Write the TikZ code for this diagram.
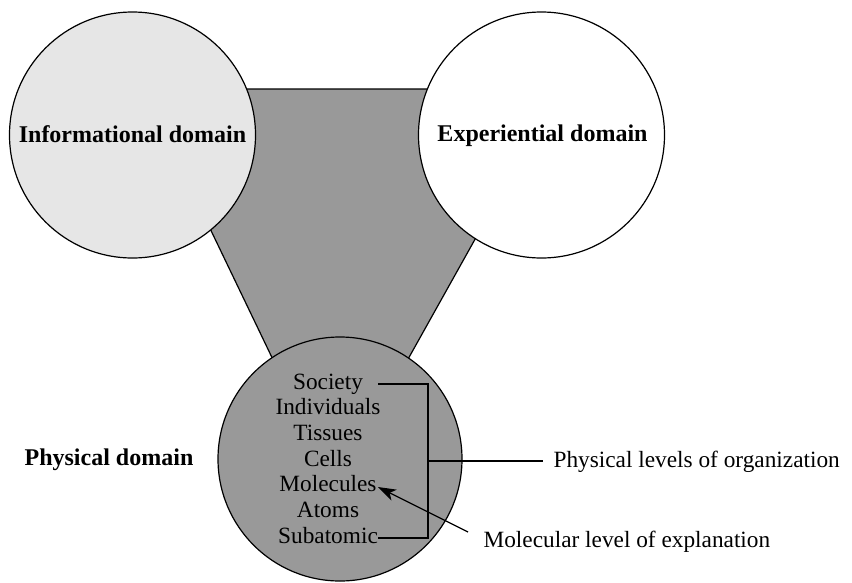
\documentclass[tikz,border=0pt]{standalone}
\usepackage{fontspec}
\setmainfont{Liberation Serif}
\usetikzlibrary{arrows.meta}
\definecolor{lightfill}{HTML}{E6E6E6}
\definecolor{midgray}{HTML}{999999}
\begin{document}
\begin{tikzpicture}[x=1pt,y=-1pt,line width=1.2pt,
  domainbox/.style={circle,draw,inner sep=0pt,minimum size=246pt},
  boldlabel/.style={inner sep=0pt,anchor=base,font=\fontsize{24}{26}\selectfont\bfseries},
  level/.style={inner sep=0pt,anchor=base,font=\fontsize{23.3}{25.7}\selectfont},
  note/.style={inner sep=0pt,anchor=base west,font=\fontsize{23.3}{25.7}\selectfont}]
\useasboundingbox (0,0) rectangle (852,582);
\fill[white] (0,0) rectangle (852,582);
% connecting trapezoid
\draw[fill=midgray,line join=miter] (143,89) -- (559,89) -- (374,420) -- (302,420) -- cycle;
% domains
\node[domainbox,fill=lightfill] (info) at (132.5,135) {};
\node[domainbox,fill=white] (exp) at (541.5,135) {};
\node[domainbox,fill=midgray,minimum size=244pt] (phys) at (340,459) {};
\node[boldlabel] (infolab) at (132.5,142) {Informational domain};
\node[boldlabel] (explab) at (542.5,141) {Experiential domain};
\node[boldlabel] (physlab) at (109,465) {Physical domain};
% levels
\node[level] (society) at (328,389) {Society};
\node[level] (individuals) at (328,414.7) {Individuals};
\node[level] (tissues) at (328,440.4) {Tissues};
\node[level] (cells) at (328,466.1) {Cells};
\node[level] (molecules) at (328,491.8) {Molecules};
\node[level] (atoms) at (328,517.5) {Atoms};
\node[level] (subatomic) at (328,543.2) {Subatomic};
% notes
\node[note] (levels) at (553,467) {Physical levels of organization};
\node[note] (expl) at (483,547) {Molecular level of explanation};
% bracket
\coordinate (bt) at (378,384);
\coordinate (bb) at (378,538);
\coordinate (bm) at (428,461);
\coordinate (bend) at (543,461);
\draw (bt) -- (bt -| bm) -- (bb -| bm) -- (bb);
\draw (bm) -- (bend);
% arrow
\coordinate (astart) at (468,532);
\coordinate (atip) at (378,487);
\draw[-{Stealth[length=18pt,width=12pt,inset=5pt]}] (astart) -- (atip);
\end{tikzpicture}
\end{document}
